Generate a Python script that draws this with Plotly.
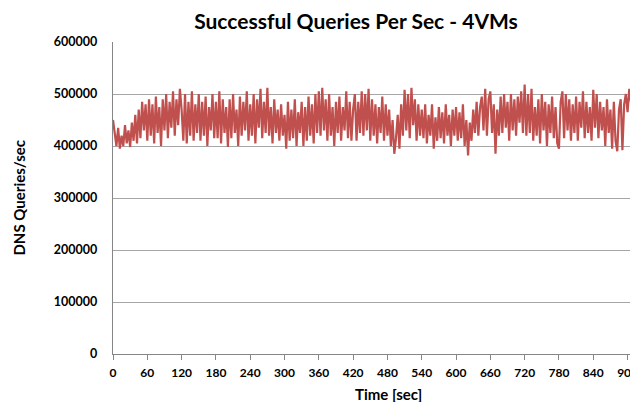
import plotly.graph_objects as go

# time in seconds (sample every 3 s)
time_sec = list(range(0, 913, 3))

# successful queries per second, in thousands
queries_k = [
    450,425,400,435,395,420,400,440,405,430,398,445,410,460,405,470,415,485,430,480,
    410,490,420,480,405,495,425,475,400,490,430,500,415,485,435,505,420,490,440,510,
    470,410,500,405,485,420,505,410,480,425,500,410,485,420,495,400,475,430,500,415,
    485,415,505,405,490,425,475,398,490,415,500,425,470,400,495,420,485,430,505,410,
    480,420,500,405,490,435,510,415,485,425,512,420,475,405,490,425,470,410,480,420,
    460,395,485,410,470,415,490,400,465,425,485,400,475,410,495,420,480,405,500,425,
    505,420,512,430,490,410,500,420,475,400,485,425,495,410,475,430,505,415,485,410,
    470,500,410,485,425,505,420,500,430,510,410,490,420,480,405,475,425,495,410,480,
    420,470,400,450,385,415,460,395,480,420,508,430,500,415,512,440,490,410,480,420,
    470,415,480,405,460,420,480,395,455,410,475,415,465,405,480,420,460,400,470,420,
    475,410,465,415,480,400,450,382,445,410,470,425,485,420,475,495,430,510,420,490,
    505,425,480,385,470,420,495,425,500,435,485,410,500,430,490,420,495,445,505,425,
    518,420,500,425,510,410,475,420,490,405,500,430,485,400,480,425,495,415,475,405,
    395,485,505,415,500,430,490,410,480,425,495,410,485,435,505,415,485,425,475,410,
    508,435,500,415,485,430,475,400,490,425,470,395,485,410,390,470,490,392,480,500,
    465,510,485,525,480,
]
SCALE = 1000
queries = [v * SCALE for v in queries_k]

x_ticks = list(range(0, 901, 60))
y_ticks = list(range(0, 600001, 100000))

FONT = "Lato"

fig = go.Figure(
    go.Scatter(
        x=time_sec, y=queries, mode="lines",
        line=dict(color="#C0504D", width=2.2),
        hoverinfo="skip",
    )
)

# the page body has an 8px default margin, so positions are shifted by -8
fig.update_layout(
    width=638, height=402,
    margin=dict(l=105, r=8, t=34, b=56),
    paper_bgcolor="white", plot_bgcolor="white",
    showlegend=False,
    font=dict(family=FONT, color="black"),
    title=dict(
        text="<b>Successful Queries Per Sec - 4VMs</b>",
        font=dict(family=FONT, size=21, color="black"),
        x=348 / 638, xref="container", xanchor="center",
        y=1 - 14 / 402, yref="container", yanchor="middle",
    ),
    xaxis=dict(
        range=[0, 913], tickvals=x_ticks,
        ticktext=[f"<b>{v}</b>" for v in x_ticks],
        tickfont=dict(family=FONT, size=12, color="black"),
        showgrid=False, zeroline=False,
        showline=True, linecolor="#868686", linewidth=1.3,
        ticks="outside", ticklen=5, tickcolor="#868686", tickwidth=1,
        ticklabelstandoff=2,
        fixedrange=True,
    ),
    yaxis=dict(
        range=[0, 600000], tickvals=y_ticks,
        ticktext=[f"<b>{v}</b>" for v in y_ticks],
        tickfont=dict(family=FONT, size=12.5, color="black"),
        showgrid=True, gridcolor="#A6A6A6", gridwidth=1.2,
        zeroline=False,
        showline=True, linecolor="#868686", linewidth=1.3,
        ticks="outside", ticklen=4, tickcolor="rgba(0,0,0,0)",
        ticklabelstandoff=8,
        fixedrange=True,
    ),
    annotations=[
        dict(text="<b>DNS Queries/sec</b>", xref="paper", yref="paper",
             x=(10 - 105) / 525, y=0.5, textangle=-90, showarrow=False,
             xanchor="center", yanchor="middle",
             font=dict(family=FONT, size=15, color="black")),
        dict(text="<b>Time [sec]</b>", xref="paper", yref="paper",
             x=(382 - 105) / 525, y=(346 - 386) / 312, showarrow=False,
             xanchor="center", yanchor="middle",
             font=dict(family=FONT, size=15, color="black")),
    ],
)

fig.write_html("out.html")
